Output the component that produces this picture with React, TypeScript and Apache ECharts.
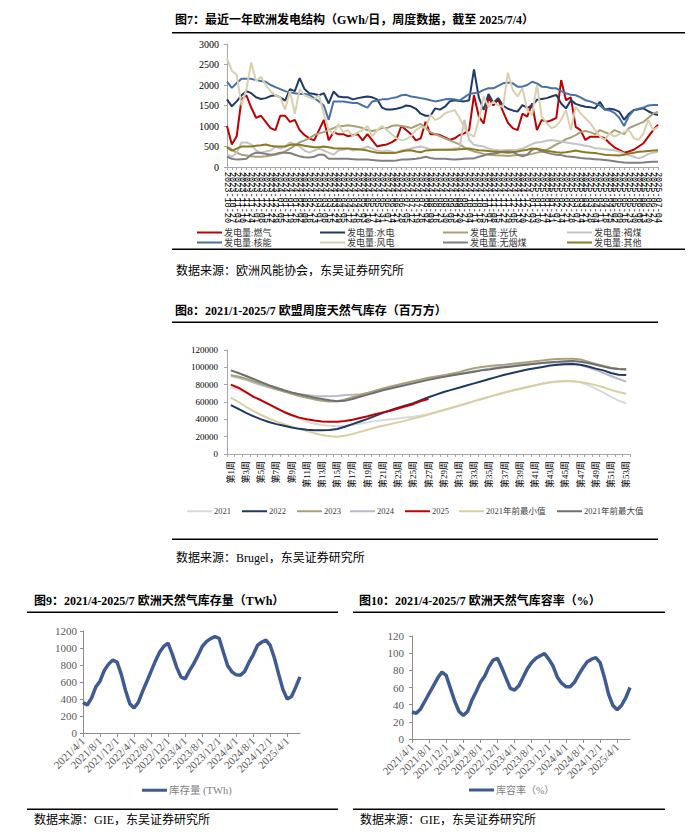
import React, { useEffect, useRef } from "react";
import * as echarts from "echarts";

const SERIF = "'Liberation Serif','Noto Sans CJK SC',serif";
const MONO = "'Liberation Mono','DejaVu Sans Mono',monospace";

// ---------- Chart 7: weekly generation mix (GWh/day) ----------
const genDates = [
  "2023-10-20","2023-10-27","2023-11-03","2023-11-10","2023-11-17","2023-11-24","2023-12-01","2023-12-08","2023-12-15","2023-12-22",
  "2023-12-29","2024-01-05","2024-01-12","2024-01-19","2024-01-26","2024-02-02","2024-02-09","2024-02-16","2024-02-23","2024-03-01",
  "2024-03-08","2024-03-15","2024-03-22","2024-03-29","2024-04-05","2024-04-12","2024-04-19","2024-04-26","2024-05-03","2024-05-10",
  "2024-05-17","2024-05-24","2024-05-31","2024-06-07","2024-06-14","2024-06-21","2024-06-28","2024-07-05","2024-07-12","2024-07-19",
  "2024-07-26","2024-08-02","2024-08-09","2024-08-16","2024-08-23","2024-08-30","2024-09-06","2024-09-13","2024-09-20","2024-09-27",
  "2024-10-04","2024-10-11","2024-10-18","2024-10-25","2024-11-01","2024-11-08","2024-11-15","2024-11-22","2024-11-29","2024-12-06",
  "2024-12-13","2024-12-20","2024-12-27","2025-01-03","2025-01-10","2025-01-17","2025-01-24","2025-01-31","2025-02-07","2025-02-14",
  "2025-02-21","2025-02-28","2025-03-07","2025-03-14","2025-03-21","2025-03-28","2025-04-04","2025-04-11","2025-04-18","2025-04-25",
  "2025-05-02","2025-05-09","2025-05-16","2025-05-23","2025-05-30","2025-06-06","2025-06-13","2025-06-20","2025-06-27","2025-07-04"
];
const genGas = [
  1000,550,750,1650,1750,1450,1200,1250,1100,950,
  900,1250,1250,1100,1150,900,780,700,650,900,
  1150,650,850,800,800,750,780,800,650,800,
  650,500,530,550,600,680,1000,900,800,650,
  700,1100,800,800,780,720,660,700,780,820,
  900,1750,1230,1060,1700,1500,1650,1350,1080,950,
  900,1300,1230,1550,900,1150,1100,1140,1200,2120,
  1630,1700,980,900,660,740,740,740,700,580,
  480,420,350,380,420,500,580,740,900,1030
];
const genHydro = [
  1650,1480,1600,1750,1850,1800,1700,1660,1680,1730,
  1750,1700,1620,1900,1850,2170,1900,1800,1780,1750,
  1800,1550,1840,1720,1700,1700,1650,1680,1700,1720,
  1700,1650,1450,1400,1400,1420,1450,1500,1480,1420,
  1300,1250,1250,1430,1400,1470,1600,1630,1610,1600,
  1630,2380,1700,1390,1780,1560,1680,1500,1420,1380,
  1350,1510,1440,1500,1640,1660,1680,1720,1760,1550,
  1430,1630,1540,1500,1470,1460,1430,1590,1400,1420,
  1400,1350,1150,1300,1390,1410,1430,1360,1300,1270
];
const genSolar = [
  500,420,350,300,280,260,250,250,260,280,
  300,330,380,450,520,600,650,700,780,820,
  850,900,950,1000,1000,1020,1000,980,950,900,
  880,900,950,950,1000,1020,1000,980,950,1000,
  1050,950,850,800,750,700,650,600,550,480,
  420,380,350,320,300,290,280,280,270,280,
  290,300,300,320,350,380,420,480,550,600,
  680,720,780,850,880,850,800,900,850,800,
  900,850,800,950,1000,1050,1100,1200,1300,1350
];
const genLignite = [
  300,250,350,600,600,550,400,350,380,400,
  500,450,500,600,550,500,400,350,400,450,
  400,350,300,400,420,450,400,420,450,500,
  450,400,380,400,380,350,400,420,450,480,
  500,470,430,420,420,420,430,450,450,1150,
  660,540,520,500,450,420,410,410,415,415,
  420,450,500,560,600,610,640,660,640,620,
  600,580,560,540,520,500,460,450,430,420,
  410,380,330,290,250,210,250,320,350,370
];
const genNuclear = [
  2080,1930,2050,2150,2150,2150,2120,2100,2080,2000,
  1950,1900,1850,1820,1800,1780,1780,1760,1680,1600,
  1500,1150,1600,1600,1600,1580,1560,1560,1500,1450,
  1600,1620,1650,1650,1680,1700,1750,1760,1720,1700,
  1680,1660,1630,1600,1620,1650,1660,1650,1620,1700,
  1780,1800,1820,1880,1920,1920,1980,2040,2060,2040,
  1960,1960,2000,2080,2040,1960,1950,1920,1920,1850,
  1800,1760,1750,1700,1630,1600,1550,1500,1400,1380,
  1320,1200,1000,1250,1380,1420,1450,1500,1510,1510
];
const genWind = [
  2650,2350,2250,1500,1900,2550,2100,2200,2000,1850,
  1750,1700,1400,1850,1300,1900,1750,1700,1650,1750,
  1300,900,800,1050,850,900,750,850,900,1000,
  750,900,1000,900,800,700,650,680,750,900,
  980,950,1270,1150,1200,1310,1350,1390,1200,950,
  800,740,1150,1720,1470,1590,1500,1470,2300,1880,
  1720,1920,1390,1270,2000,1230,1070,950,1000,1150,
  1390,900,1470,1310,1190,1070,900,750,660,820,
  740,800,850,900,700,660,820,1150,900,980
];
const genHardCoal = [
  250,200,180,190,200,300,350,340,320,300,
  320,350,350,340,300,260,240,230,250,300,
  300,200,200,200,200,200,190,180,180,180,
  170,160,150,150,150,160,180,180,190,200,
  220,250,220,200,200,200,190,180,190,200,
  210,210,250,280,320,330,350,370,380,370,
  300,260,300,420,450,380,350,320,300,290,
  260,250,240,220,210,200,190,180,170,160,
  140,120,110,105,105,105,110,120,130,130
];
const genOther = [
  480,400,450,500,500,500,520,530,550,520,
  500,500,500,540,550,540,520,500,480,480,
  500,480,460,450,450,450,440,430,420,400,
  370,350,340,340,340,350,380,400,410,380,
  360,400,410,420,420,420,420,420,430,440,
  450,430,410,400,390,380,370,360,350,360,
  380,400,420,450,440,420,390,380,360,350,
  360,380,400,380,360,350,340,320,300,290,
  285,280,300,330,350,370,380,390,400,410
];
const genNames = ["发电量:燃气","发电量:水电","发电量:光伏","发电量:褐煤","发电量:核能","发电量:风电","发电量:无烟煤","发电量:其他"];
const genSeriesData = [genGas, genHydro, genSolar, genLignite, genNuclear, genWind, genHardCoal, genOther];
const genColors = ["#C00000","#1F3A68","#A8A176","#C4C4C4","#4A70AA","#D8D1B0","#808080","#8C7A24"];

// ---------- Chart 8: EU weekly gas storage (mcm) ----------
const weekLabels = [
  "第1周","第2周","第3周","第4周","第5周","第6周","第7周","第8周","第9周","第10周",
  "第11周","第12周","第13周","第14周","第15周","第16周","第17周","第18周","第19周","第20周",
  "第21周","第22周","第23周","第24周","第25周","第26周","第27周","第28周","第29周","第30周",
  "第31周","第32周","第33周","第34周","第35周","第36周","第37周","第38周","第39周","第40周",
  "第41周","第42周","第43周","第44周","第45周","第46周","第47周","第48周","第49周","第50周",
  "第51周","第52周","第53周"
];
const st2021 = [
  77000,74000,70500,66000,61500,57000,52500,48000,44000,40500,
  37500,35000,33500,32500,32000,32500,33500,35000,36500,38000,
  39000,40000,41000,42000,43000,44500,46000,48500,51000,53500,
  56000,58500,61000,63500,66000,68500,71000,73500,75500,77500,
  79500,81500,83000,84000,84500,84000,82500,79500,75500,71000,
  66000,61500,58500
];
const st2022 = [
  56500,52000,47500,43500,40000,37000,34500,32500,30500,29000,
  28000,27500,27300,27800,28800,31500,34500,37500,40500,44000,
  47500,50500,53500,56000,58500,62000,65500,68500,71500,74000,
  76500,79000,81500,84000,86500,89000,91500,93500,95500,97500,
  99000,100500,102000,103000,103600,103800,103000,101000,98500,96500,
  93500,91500,91200
];
const st2023 = [
  91000,89500,87000,84000,81000,78000,75000,72000,69500,67000,
  65000,63000,61500,60500,61000,63000,65500,68000,70500,73000,
  75500,78000,80000,82000,84000,86000,88000,89500,91000,92500,
  94500,97000,99000,100500,101500,102500,103000,104000,105000,106000,
  107000,108000,109000,109500,110000,110000,109000,106500,104000,102000,
  99500,98000,97500
];
const st2024 = [
  90000,88000,85500,82500,79500,77000,74500,72500,70500,69000,
  68000,67000,66500,66500,67000,68000,68500,69000,70500,72500,
  74500,76500,78500,80500,82500,84500,86500,88000,89500,91000,
  92500,94000,95500,97000,98500,100000,101000,102000,103000,104000,
  104500,105000,105500,105500,105000,104000,102500,100000,97000,93500,
  90000,86500,83500
];
const st2025 = [
  80000,76500,71500,66000,62000,57500,53000,48500,45000,42000,
  40000,38600,37600,37300,37300,38000,39500,41500,43500,46000,
  48000,50000,52500,55000,57500,61000,63500
];
const stMin = [
  65000,60000,54500,49500,45000,41000,37500,34500,31500,29000,
  26500,24000,22000,20500,20000,21000,23000,25500,28000,30500,
  32500,34500,36500,38500,41000,43000,45500,48000,50500,53000,
  55500,58000,61000,63500,66000,68500,71000,73000,75000,77000,
  79000,81000,82500,83500,84000,84000,83000,81500,79500,77000,
  74000,71500,69500
];
const stMax = [
  96500,93500,90000,86500,83000,79500,76500,73500,71000,69000,
  67000,65000,63500,62000,61000,61500,63500,66000,68500,71000,
  73500,75500,77500,79500,81500,83500,85500,87500,89000,90500,
  92000,93500,95000,96500,97500,99000,100000,101000,102000,103000,
  104000,105000,106000,106500,107000,107200,106500,105000,103000,100800,
  99000,98000,97700
];

// ---------- Charts 9 & 10: monthly storage (TWh) and fill rate (%) ----------
const monthLabels = [
  "2021/4/1","2021/5/1","2021/6/1","2021/7/1","2021/8/1","2021/9/1","2021/10/1","2021/11/1","2021/12/1",
  "2022/1/1","2022/2/1","2022/3/1","2022/4/1","2022/5/1","2022/6/1","2022/7/1","2022/8/1","2022/9/1","2022/10/1","2022/11/1","2022/12/1",
  "2023/1/1","2023/2/1","2023/3/1","2023/4/1","2023/5/1","2023/6/1","2023/7/1","2023/8/1","2023/9/1","2023/10/1","2023/11/1","2023/12/1",
  "2024/1/1","2024/2/1","2024/3/1","2024/4/1","2024/5/1","2024/6/1","2024/7/1","2024/8/1","2024/9/1","2024/10/1","2024/11/1","2024/12/1",
  "2025/1/1","2025/2/1","2025/3/1","2025/4/1","2025/5/1","2025/6/1","2025/7/1"
];
const storageTWh = [
  360,330,410,540,610,735,810,858,835,690,
  500,345,295,360,490,606,725,845,950,1020,
  1058,925,775,660,637,730,813,910,1015,1075,
  1110,1134,1114,950,790,720,684,680,725,830,
  920,1030,1070,1092,1030,880,690,510,400,430,
  540,660
];
const fillRate = [
  31.5,30,35,44,53,62,71,78,74,59,
  44,32,27.5,32,45,55,66,73,84,92,
  94,83,71,59,57,62,72,82,89,94,
  97,99.4,93,85,72,65,61,61,66,75,
  83,90,93,94.7,89,72,52,39,34,39,
  48,60
];

function legendItem(name: string, left: number, top: number, fontSize: number, color: string, itemHeight: number) {
  return {
    data: [name], left, top, padding: 0, icon: "rect", itemWidth: 25, itemHeight,
    selectedMode: false, itemGap: 0,
    textStyle: { fontSize, color, fontFamily: SERIF, padding: [0, 0, 0, -3] }
  };
}

function text(x: number, y: number, t: string, size: number, bold = false) {
  return {
    type: "text", x, y, silent: true,
    style: { text: t, fill: "#000", font: `${bold ? "bold " : ""}${size}px ${SERIF}`, verticalAlign: "middle", textVerticalAlign: "middle" }
  };
}
function rule(x1: number, x2: number, y: number) {
  return { type: "rect", silent: true, shape: { x: x1, y, width: x2 - x1, height: 1.5 }, style: { fill: "#000" } };
}

function buildOption() {
  const axisGray = "#A6A6A6";
  const series: any[] = [];
  genNames.forEach((n, i) => {
    series.push({
      name: n, type: "line", xAxisIndex: 0, yAxisIndex: 0, data: genSeriesData[i],
      showSymbol: false, symbol: "none", color: genColors[i], lineStyle: { width: 2, color: genColors[i] }
    });
  });
  const st = [
    { name: "2021", data: st2021, color: "#DADADA" },
    { name: "2021年前最小值", data: stMin, color: "#D9D0A2" },
    { name: "2024", data: st2024, color: "#B8BAC6" },
    { name: "2023", data: st2023, color: "#A8A27C" },
    { name: "2022", data: st2022, color: "#1F3864" },
    { name: "2021年前最大值", data: stMax, color: "#6F6F6F" },
    { name: "2025", data: st2025, color: "#C00000" }
  ];
  st.forEach((s) => series.push({
    name: s.name, type: "line", xAxisIndex: 1, yAxisIndex: 1, data: s.data, showSymbol: false, symbol: "none",
    color: s.color, lineStyle: { width: 2, color: s.color }
  }));
  series.push({ name: "库存量 (TWh)", type: "line", xAxisIndex: 2, yAxisIndex: 2, data: storageTWh, showSymbol: false, symbol: "none", color: "#3F5B91", lineStyle: { width: 3.5, color: "#3F5B91" } });
  series.push({ name: "库容率（%）", type: "line", xAxisIndex: 3, yAxisIndex: 3, data: fillRate, showSymbol: false, symbol: "none", color: "#3F5B91", lineStyle: { width: 3.5, color: "#3F5B91" } });

  const legends: any[] = [];
  const colX = [197, 320, 443, 567];
  genNames.forEach((n, i) => {
    const col = i % 4, row = Math.floor(i / 4);
    legends.push(legendItem(n, colX[col], row === 0 ? 228 : 238, 9, "#333", 2));
  });
  const stLeg = [["2021", 187], ["2022", 242], ["2023", 297], ["2024", 350], ["2025", 405], ["2021年前最小值", 459], ["2021年前最大值", 557]] as [string, number][];
  stLeg.forEach(([n, x]) => legends.push(legendItem(n, x, 507, 8.5, "#404040", 2)));
  legends.push(legendItem("库存量 (TWh)", 142, 785, 10.5, "#7F7F7F", 3));
  legends.push(legendItem("库容率（%）", 469, 785, 10, "#7F7F7F", 3));

  const plain = (v: number) => String(v);
  const valAxis = (gridIndex: number, max: number, interval: number, fontSize: number, color: string, margin: number, lineColor: string) => ({
    type: "value", gridIndex, min: 0, max, interval,
    axisLine: { show: true, lineStyle: { color: lineColor } },
    axisTick: { show: true, length: 3, lineStyle: { color: lineColor } },
    splitLine: { show: false },
    axisLabel: { fontSize, color, fontFamily: SERIF, margin, formatter: plain }
  });

  return {
    animation: false,
    backgroundColor: "#fff",
    textStyle: { fontFamily: SERIF },
    grid: [
      { left: 227, top: 44, width: 431, height: 123 },
      { left: 227, top: 350, width: 403, height: 104 },
      { left: 83, top: 631, width: 217, height: 102 },
      { left: 412, top: 636, width: 218, height: 103 }
    ],
    xAxis: [
      {
        type: "category", gridIndex: 0, data: genDates, boundaryGap: false,
        axisLine: { lineStyle: { color: axisGray } },
        axisTick: { show: true, interval: 0, length: 3, lineStyle: { color: axisGray } },
        axisLabel: { interval: 0, rotate: -90, fontSize: 8.5, fontFamily: MONO, color: "#000", margin: 5 }
      },
      {
        type: "category", gridIndex: 1, data: weekLabels, boundaryGap: true,
        axisLine: { lineStyle: { color: axisGray } },
        axisTick: { show: true, interval: 0, length: 3, lineStyle: { color: axisGray } },
        axisLabel: { interval: 1, rotate: 90, fontSize: 9, fontFamily: SERIF, color: "#000", margin: 7 }
      },
      {
        type: "category", gridIndex: 2, data: monthLabels, boundaryGap: false,
        axisLine: { lineStyle: { color: "#8C8C8C" } },
        axisTick: { show: true, interval: 3, length: 4, lineStyle: { color: "#8C8C8C" } },
        axisLabel: { interval: 3, rotate: 45, fontSize: 11, fontFamily: SERIF, color: "#595959", margin: 6 }
      },
      {
        type: "category", gridIndex: 3, data: monthLabels, boundaryGap: false,
        axisLine: { lineStyle: { color: "#8C8C8C" } },
        axisTick: { show: true, interval: 3, length: 4, lineStyle: { color: "#8C8C8C" } },
        axisLabel: { interval: 3, rotate: 45, fontSize: 11, fontFamily: SERIF, color: "#595959", margin: 6 }
      }
    ],
    yAxis: [
      valAxis(0, 3000, 500, 10, "#000", 8, axisGray),
      valAxis(1, 120000, 20000, 9, "#000", 9, axisGray),
      valAxis(2, 1200, 200, 11, "#595959", 6, "#8C8C8C"),
      valAxis(3, 120, 20, 11, "#595959", 8, "#8C8C8C")
    ],
    legend: legends,
    series,
    graphic: [
      text(175, 20, "图7：最近一年欧洲发电结构（GWh/日，周度数据，截至 2025/7/4）", 12, true),
      rule(172, 685, 32),
      rule(172, 685, 248.5),
      text(176, 271, "数据来源：欧洲风能协会，东吴证券研究所", 12),
      text(175, 311, "图8：2021/1-2025/7 欧盟周度天然气库存（百万方）", 12, true),
      rule(172, 658, 321.5),
      rule(172, 658, 538.5),
      text(176, 558, "数据来源：Brugel，东吴证券研究所", 12),
      text(34, 601, "图9：2021/4-2025/7 欧洲天然气库存量（TWh）", 12, true),
      rule(27, 338, 611.5),
      rule(27, 338, 808.5),
      text(34, 820, "数据来源：GIE，东吴证券研究所", 12),
      text(359, 601, "图10：2021/4-2025/7 欧洲天然气库容率（%）", 12, true),
      rule(353, 665, 611.5),
      rule(353, 665, 808.5),
      text(360, 820, "数据来源：GIE，东吴证券研究所", 12)
    ]
  };
}

export default function App() {
  const ref = useRef<HTMLDivElement>(null);
  useEffect(() => {
    if (!ref.current) return;
    const chart = echarts.init(ref.current, null, { renderer: "svg" });
    chart.setOption(buildOption() as any);
    return () => chart.dispose();
  }, []);
  return (
    <div
      ref={ref}
      style={{ position: "fixed", left: 0, top: 0, width: 700, height: 837, background: "#fff" }}
    />
  );
}
